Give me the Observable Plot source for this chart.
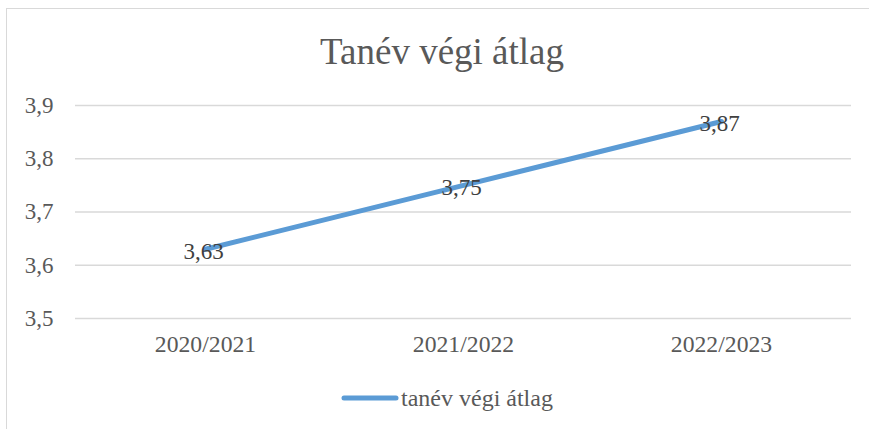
<!DOCTYPE html>
<html>
<head>
<meta charset="utf-8">
<script src="https://cdn.jsdelivr.net/npm/d3@7"></script>
<script src="https://cdn.jsdelivr.net/npm/@observablehq/plot@0.6"></script>
<style>
  html, body { margin: 0; padding: 0; background: #fff; }
  #wrap { position: relative; width: 869px; height: 429px; overflow: hidden; font-family: "Liberation Serif", "Times New Roman", serif; }
  #border { position: absolute; left: 6px; top: 8px; width: 880px; height: 440px; border-left: 1.5px solid #d9d9d9; border-top: 1.5px solid #d9d9d9; box-sizing: border-box; }
  #title { position: absolute; left: 0; width: 884px; top: 30px; text-align: center; font-size: 37px; color: #595959; line-height: 44px; white-space: nowrap; }
  #chart { position: absolute; left: 0; top: 0; }
  #legend { position: absolute; left: 340px; top: 385px; height: 26px; display: flex; align-items: center; font-size: 24px; color: #595959; white-space: nowrap; font-family: "Liberation Serif", "Times New Roman", serif; }
  #legend svg { margin-right: 1px; }
</style>
</head>
<body>
<div id="wrap">
  <div id="border"></div>
  <div id="chart"></div>
  <div id="title">Tanév végi átlag</div>
  <div id="legend"><svg width="60" height="10"><line x1="4" y1="5" x2="56" y2="5" stroke="#5b9bd5" stroke-width="5" stroke-linecap="round"/></svg><span>tanév végi átlag</span></div>
</div>
<script>
const categories = ["2020/2021", "2021/2022", "2022/2023"];
const values = [3.63, 3.75, 3.87];
const yTicks = [3.5, 3.6, 3.7, 3.8, 3.9];
const seriesName = "tanév végi átlag";

const data = categories.map((c, i) => ({year: c, value: values[i]}));
const comma = v => String(v).replace(".", ",");
const fmt1 = v => d3.format(".1f")(v).replace(".", ",");
const serif = "Liberation Serif";

const chart = Plot.plot({
  width: 869,
  height: 429,
  marginLeft: 75,
  marginRight: 18,
  marginTop: 105,
  marginBottom: 111,
  style: {fontFamily: serif, fontSize: "23px", color: "#595959", background: "transparent"},
  x: {type: "point", domain: categories, padding: 0.5, label: null},
  y: {domain: [3.5, 3.9], label: null},
  marks: [
    Plot.gridY(yTicks, {stroke: "#d9d9d9", strokeOpacity: 1, strokeWidth: 1.3}),
    Plot.axisY(yTicks, {tickSize: 0, tickPadding: 22, tickFormat: fmt1, fontSize: 23, fontFamily: serif, fill: "#595959", label: null}),
    Plot.axisX({tickSize: 0, tickPadding: 17, fontSize: 23.7, fontFamily: serif, fill: "#595959", label: null}),
    Plot.line(data, {x: "year", y: "value", stroke: "#5b9bd5", strokeWidth: 5, strokeLinecap: "round"}),
    Plot.text(data, {x: "year", y: "value", text: d => comma(d.value), fontSize: 23, fontFamily: serif, fill: "#404040", dx: -2, dy: 2})
  ]
});
document.getElementById("chart").appendChild(chart);
</script>
</body>
</html>
